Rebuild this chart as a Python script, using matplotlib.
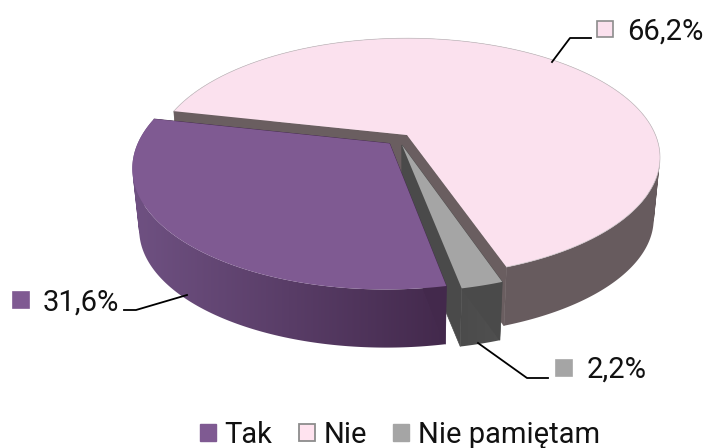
from matplotlib import pyplot as plt
from matplotlib.colors import to_rgb
from matplotlib.patches import Patch, PathPatch
from matplotlib.path import Path
import numpy as np

plt.rcParams['font.family'] = ['Roboto', 'DejaVu Sans']

labels = ["Tak", "Nie", "Nie pamiętam"]
values = [31.6, 66.2, 2.2]
value_text = ["31,6%", "66,2%", "2,2%"]
top_colors = ["#7f5a92", "#fbe1ee", "#a5a5a5"]
cut_colors = ["#43294c", "#6a5e60", "#4a4a4a"]
# wall colours, left end and right end of each slice
wall_left = ["#6f5182", "#6a5d60", "#4b4b4b"]
wall_right = ["#43294c", "#675b5e", "#505050"]

# projection of the pie plane to pixels (perspective fitted on the picture)
A, B, k = 248.5, 115.0, 0.188
x0, y0 = 407.0, 135.0
depth = 62.0
shrink = 0.975
explode = 0.05
start = 168.7


def project(x, y, bottom=False):
    w = 1 + k * y
    sx = x0 + A * x / w
    sy = y0 - B * y / w
    if bottom:
        sx = x0 + shrink * (sx - x0)
        sy = y0 + depth + shrink * (sy - y0)
    return sx, sy


def wall_path(tx, ty, bx, by):
    # one quad per step, all wound the same way so the union has no holes
    parts = []
    for j in range(len(tx) - 1):
        q = np.array([[tx[j], ty[j]], [tx[j + 1], ty[j + 1]],
                      [bx[j + 1], by[j + 1]], [bx[j], by[j]]])
        area = np.sum(q[:, 0] * np.roll(q[:, 1], -1) - np.roll(q[:, 0], -1) * q[:, 1])
        if area < 0:
            q = q[::-1]
        parts.append(Path(np.vstack([q, q[0]]), closed=True))
    return Path.make_compound_path(*parts)


fig = plt.figure(figsize=(7.08, 4.48), dpi=100)
ax = fig.add_axes([0, 0, 1, 1])

angles = start + np.cumsum([0] + values) * 3.6
ref_mid = np.radians((angles[1] + angles[2]) / 2)  # Nie is the reference slice

z = 1
for i in [1, 2, 0]:
    a1, a2 = angles[i], angles[i + 1]
    mid = np.radians((a1 + a2) / 2)
    ox = explode * (np.sin(mid) - np.sin(ref_mid))
    oy = explode * (np.cos(mid) - np.cos(ref_mid))
    th = np.radians(np.linspace(a1, a2, int(a2 - a1) * 2 + 2))
    rx = ox + np.sin(th)
    ry = oy + np.cos(th)
    tx, ty = project(rx, ry)
    bx, by = project(rx, ry, True)
    ctop = project(ox, oy)
    cbot = project(ox, oy, True)

    # outer wall as one horizontal gradient clipped to the wall shape
    outline = PathPatch(wall_path(tx, ty, bx, by), transform=ax.transData, fc="none", ec="none")
    ax.add_patch(outline)
    wx = np.r_[tx, bx]
    wy = np.r_[ty, by]
    grad = np.linspace(to_rgb(wall_left[i]), to_rgb(wall_right[i]), 256)[None, :, :]
    im = ax.imshow(grad, extent=[wx.min(), wx.max(), wy.max(), wy.min()],
                   aspect="auto", zorder=z, interpolation="bilinear")
    im.set_clip_path(outline)
    z += 1

    # cut faces
    ax.fill([ctop[0], tx[0], bx[0], cbot[0]], [ctop[1], ty[0], by[0], cbot[1]],
            color=cut_colors[i], lw=0.5, zorder=z)
    ax.fill([ctop[0], tx[-1], bx[-1], cbot[0]], [ctop[1], ty[-1], by[-1], cbot[1]],
            color=cut_colors[i], lw=0.5, zorder=z)
    z += 1

    ax.fill(np.r_[ctop[0], tx], np.r_[ctop[1], ty], color=top_colors[i], lw=0, zorder=z)
    z += 1
    if i == 1:
        ax.plot(tx, ty, color="#c9c2c6", lw=0.5, zorder=z)
        z += 1

ax.set_xlim(0, 708)
ax.set_ylim(448, 0)
ax.axis("off")

# leader lines
ax.plot([591, 570, 552], [38, 38, 62], color="black", lw=1.3, zorder=z)
ax.plot([124, 136, 187], [310, 310, 295], color="black", lw=1.3, zorder=z)
ax.plot([478, 527, 548], [343, 378, 378], color="black", lw=1.3, zorder=z)

# data labels with their key squares
sq_x = [13, 597, 556]
sq_y = [292, 21, 360]
txt_x = [43, 627, 587]
txt_y = [311, 40, 378]
for i in range(3):
    ec = "#8c8c8c" if i == 1 else top_colors[i]
    ax.add_patch(plt.Rectangle((sq_x[i], sq_y[i]), 16, 16, fc=top_colors[i], ec=ec, lw=1.2, zorder=z))
    ax.text(txt_x[i], txt_y[i], value_text[i], fontsize=21, va="baseline", ha="left",
            color="#111111", zorder=z)

handles = [Patch(fc=top_colors[0], ec=top_colors[0]),
           Patch(fc="#ffe3ef", ec="#8c8c8c", lw=1.3),
           Patch(fc=top_colors[2], ec=top_colors[2])]
ax.legend(handles, labels, ncol=3, frameon=False, fontsize=21,
          loc="lower center", bbox_to_anchor=(0.565, -0.06),
          handlelength=0.55, handleheight=0.55, handletextpad=0.3,
          columnspacing=0.9, labelcolor="#111111")

fig.savefig("out.png", dpi=100)
